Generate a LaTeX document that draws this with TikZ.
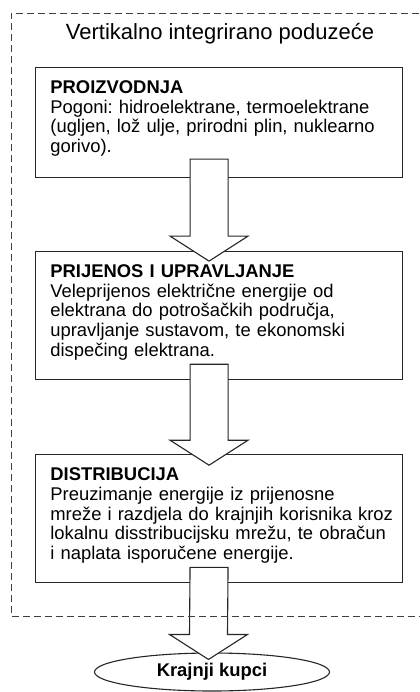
\documentclass[tikz,border=0pt]{standalone}
\usepackage{fontspec}
\setmainfont{Liberation Sans}
\usepackage{tikz}
\usetikzlibrary{
    positioning,      % Relative positioning
    shapes.geometric, % Ellipse for the end customers
    calc              % Coordinate calculations
}
\frenchspacing

\begin{document}
\begin{tikzpicture}[x=0.5pt, y=-0.5pt,
    stagebox/.style={draw=black!85, line width=0.55pt, minimum width=183.5pt, inner sep=0pt},
    stagetext/.style={inner sep=0pt, align=left, text width=175pt, font=\fontsize{9.2}{9.9}\selectfont},
    blockarrow/.style={draw=black!85, line width=0.55pt, fill=white, line join=miter},
    frame/.style={draw=black!75, line width=0.5pt, dash pattern=on 3.5pt off 2pt}]
    \useasboundingbox (0,0) rectangle (419,692);

    % Title of the dashed frame
    \node[anchor=base, font=\fontsize{11}{13}\selectfont] (title) at (220,39) {Vertikalno integrirano poduzeće};

    % Three stages: generation -> transmission -> distribution
    \node[stagebox, anchor=north west, minimum height=55pt] (prod) at (35,67) {};
    \node[stagebox, below=36.5pt of prod, minimum height=64pt] (prij) {};
    \node[stagebox, below=37pt of prij, minimum height=64pt] (dist) {};

    \node[stagetext, below right=6.5pt and 7.5pt of prod.north west] (prodtxt)
        {\textbf{PROIZVODNJA}\\Pogoni: hidroelektrane, termoelektrane\\(ugljen, lož ulje, prirodni plin, nuklearno\\gorivo).};
    \node[stagetext, below right=6.5pt and 7.5pt of prij.north west] (prijtxt)
        {\textbf{PRIJENOS I UPRAVLJANJE}\\Veleprijenos električne energije od\\elektrana do potrošačkih područja,\\upravljanje sustavom, te ekonomski\\dispečing elektrana.};
    \node[stagetext, below right=6.5pt and 7.5pt of dist.north west] (disttxt)
        {\textbf{DISTRIBUCIJA}\\Preuzimanje energije iz prijenosne\\mreže i razdjela do krajnjih korisnika kroz\\lokalnu disstribucijsku mrežu, te obračun\\i naplata isporučene energije.};

    % End customers
    \node[ellipse, draw=black!85, line width=0.55pt, minimum width=117.5pt, minimum height=19pt, inner sep=0pt,
          font=\bfseries\fontsize{9.2}{11}\selectfont] (kupci) at (212,672) {Krajnji kupci};

    % Block arrows between the stages
    \coordinate (t1) at ($(prod.south)+(-10,-19)$);
    \coordinate (h1) at ($(prij.north)+(-10,10)$);
    \coordinate (t2) at ($(prij.south)+(-10,-16)$);
    \coordinate (h2) at ($(dist.north)+(-10,11)$);
    \coordinate (t3) at ($(dist.south)+(-10,-16)$);
    \coordinate (h3) at ($(kupci.north)+(-3.5,7)$);
    \foreach \t/\h in {t1/h1, t2/h2, t3/h3}
        \draw[blockarrow] ($(\t)+(-19,0)$) -- ($(\h)+(-19,-25)$) -- ($(\h)+(-39,-25)$) -- (\h)
            -- ($(\h)+(39,-25)$) -- ($(\h)+(19,-25)$) -- ($(\t)+(19,0)$) -- cycle;

    % Dashed frame of the integrated company (open to the right)
    \draw[frame] (430,13) -- (11,13) -- (11,616) -- (430,616);
\end{tikzpicture}
\end{document}
